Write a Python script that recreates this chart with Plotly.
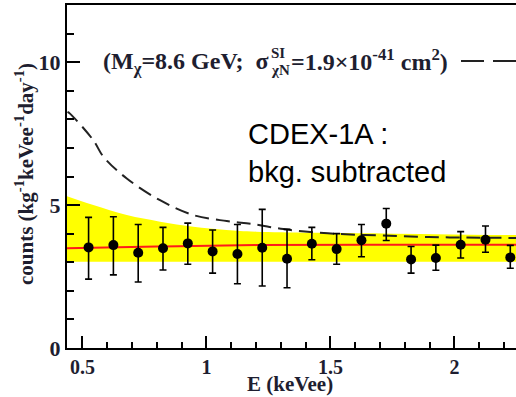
import plotly.graph_objects as go

# ---- data ----
energy = [0.525, 0.625, 0.725, 0.825, 0.925, 1.025, 1.125, 1.225, 1.325,
          1.425, 1.525, 1.625, 1.725, 1.825, 1.925, 2.025, 2.125, 2.225]
counts = [3.52, 3.60, 3.33, 3.49, 3.66, 3.38, 3.29, 3.51, 3.12,
          3.65, 3.46, 3.77, 4.35, 3.10, 3.15, 3.61, 3.79, 3.17]
upper = [4.57, 4.59, 4.32, 4.22, 4.37, 4.13, 4.32, 4.85, 4.15,
         4.22, 4.00, 4.32, 4.88, 3.55, 3.60, 4.07, 4.27, 3.59]
lower = [2.41, 2.56, 2.31, 2.73, 2.93, 2.62, 2.25, 2.17, 2.11,
         3.09, 2.93, 3.19, 3.76, 2.62, 2.72, 3.15, 3.35, 2.79]

wimp_E = [0.44, 0.45, 0.544, 0.585, 0.679, 0.813, 0.948, 1.082, 1.19,
          1.31, 1.445, 1.58, 1.71, 1.85, 1.98, 2.25]
wimp_counts = [8.26, 8.20, 7.27, 6.69, 5.93, 5.17, 4.65, 4.44, 4.33,
               4.16, 4.04, 3.97, 3.94, 3.89, 3.87, 3.85]

band_E = [0.438, 0.544, 0.679, 0.813, 0.947, 1.08, 1.2, 1.71, 2.248]
band_top = [5.31, 5.00, 4.65, 4.42, 4.24, 4.13, 4.07, 4.01, 3.95]
band_bottom = [3.02, 3.02, 3.02, 3.02, 3.02, 3.02, 3.02, 3.02, 3.02]

fit_E = [0.438, 0.8, 1.2, 1.7, 2.248]
fit_counts = [3.49, 3.55, 3.60, 3.61, 3.61]

x_range = [0.438, 2.248]
y_range = [0, 12]
x_ticks = [0.5, 1, 1.5, 2]
x_ticklabels = ["0.5", "1", "1.5", "2"]
y_ticks = [0, 5, 10]
y_ticklabels = ["0", "5", "10"]

# ---- layout geometry (pixels) ----
W_IMG, H_IMG = 516, 397
L, T, R, B = 67, 5, 0, 49
PW, PH = W_IMG - L - R, H_IMG - T - B


def px_x(p):
    return (p - L) / PW


def px_y(p):
    return 1 - (p - T) / PH


TXT = "#1e1e30"
SERIF = "Liberation Serif"

fig = go.Figure()

fig.add_trace(go.Scatter(x=band_E, y=band_bottom, mode="lines",
                         line=dict(width=0, color="#ffff00"), showlegend=False,
                         hoverinfo="skip"))
fig.add_trace(go.Scatter(x=band_E, y=band_top, mode="lines", fill="tonexty",
                         fillcolor="#ffff00", line=dict(width=0, color="#ffff00", shape="spline"),
                         showlegend=False, hoverinfo="skip"))
fig.add_trace(go.Scatter(x=fit_E, y=fit_counts, mode="lines",
                         line=dict(color="#ff1a1a", width=2, shape="spline"),
                         showlegend=False))
fig.add_trace(go.Scatter(x=wimp_E, y=wimp_counts, mode="lines",
                         line=dict(color="#222222", width=2, dash="14px,7px", shape="spline"),
                         showlegend=False))

err_plus = [u - c for u, c in zip(upper, counts)]
err_minus = [c - l for c, l in zip(counts, lower)]
fig.add_trace(go.Scatter(x=energy, y=counts, mode="markers",
                         marker=dict(color="black", size=10),
                         error_y=dict(type="data", array=err_plus, arrayminus=err_minus,
                                      color="black", thickness=1.6, width=3.5),
                         showlegend=False))

fig.update_layout(
    width=W_IMG, height=H_IMG,
    margin=dict(l=L, r=R, t=T, b=B),
    paper_bgcolor="white", plot_bgcolor="white",
    showlegend=False,
    xaxis=dict(range=x_range, showgrid=False, zeroline=False,
               showline=True, linecolor="black", linewidth=2, mirror=True,
               ticks="inside", ticklen=12, tickwidth=2, tickcolor="black",
               tickvals=x_ticks, ticktext=x_ticklabels,
               tickfont=dict(family=SERIF, size=20, color=TXT, weight="bold"),
               minor=dict(ticks="inside", ticklen=6, tickwidth=2, tickcolor="black",
                          dtick=0.1, tick0=0.5, showgrid=False)),
    yaxis=dict(range=y_range, showgrid=False, zeroline=False,
               showline=True, linecolor="black", linewidth=2, mirror=False,
               ticks="inside", ticklen=13, tickwidth=2, tickcolor="black",
               tickvals=y_ticks, ticktext=y_ticklabels,
               tickfont=dict(family=SERIF, size=22, color=TXT, weight="bold"),
               minor=dict(ticks="inside", ticklen=7, tickwidth=2, tickcolor="black",
                          dtick=1, tick0=0, showgrid=False)),
)

ann = []
# axis titles
ann.append(dict(xref="paper", yref="paper", x=px_x(290), y=px_y(397),
                text="<b>E (keVee)</b>", showarrow=False,
                font=dict(family=SERIF, size=21, color=TXT),
                xanchor="center", yanchor="bottom", borderpad=0))
ann.append(dict(xref="paper", yref="paper", x=px_x(24), y=px_y(174),
                text="<b>counts (kg<sup>-1</sup>keVee<sup>-1</sup>day<sup>-1</sup>)</b>",
                showarrow=False, textangle=-90,
                font=dict(family=SERIF, size=21, color=TXT),
                xanchor="center", yanchor="middle"))
# legend entry text
leg_font = dict(family=SERIF, size=24, color=TXT)
ann.append(dict(xref="paper", yref="paper", x=px_x(101), y=px_y(63),
                text="<b>(M<sub>χ</sub>=8.6 GeV;  σ</b>", showarrow=False,
                font=leg_font, xanchor="left", yanchor="middle"))
ann.append(dict(xref="paper", yref="paper", x=px_x(269), y=px_y(53),
                text="<b>SI</b>", showarrow=False,
                font=dict(family=SERIF, size=15, color=TXT), xanchor="left", yanchor="middle"))
ann.append(dict(xref="paper", yref="paper", x=px_x(269), y=px_y(70),
                text="<b>χN</b>", showarrow=False,
                font=dict(family=SERIF, size=15, color=TXT), xanchor="left", yanchor="middle"))
ann.append(dict(xref="paper", yref="paper", x=px_x(289), y=px_y(60),
                text="<b>=1.9×10<sup>-41</sup> cm<sup>2</sup>)</b>", showarrow=False,
                font=leg_font, xanchor="left", yanchor="middle"))
# CDEX label
ann.append(dict(xref="paper", yref="paper", x=px_x(246), y=px_y(134),
                text="CDEX-1A :", showarrow=False,
                font=dict(family="Liberation Sans", size=29, color="black"),
                xanchor="left", yanchor="middle"))
ann.append(dict(xref="paper", yref="paper", x=px_x(246), y=px_y(172),
                text="bkg. subtracted", showarrow=False,
                font=dict(family="Liberation Sans", size=29, color="black"),
                xanchor="left", yanchor="middle"))
fig.update_layout(annotations=ann)

# legend line sample (dashed)
fig.add_shape(type="line", xref="paper", yref="paper",
              x0=px_x(461), x1=px_x(516), y0=px_y(61), y1=px_y(61),
              line=dict(color="#222222", width=2, dash="23px,9px"))

fig.write_html("out.html")
